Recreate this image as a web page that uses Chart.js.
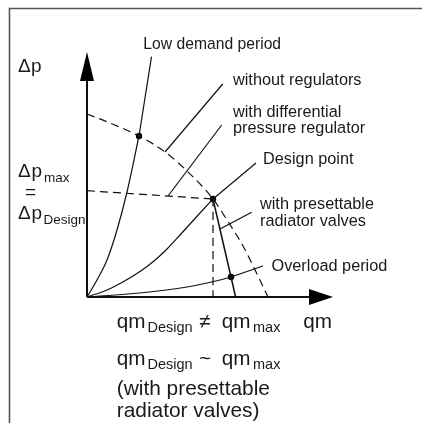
<!DOCTYPE html>
<html><head><meta charset="utf-8">
<script src="https://cdn.jsdelivr.net/npm/chart.js@4.4.0/dist/chart.umd.min.js"></script>
<style>html,body{margin:0;padding:0;background:#fff}#wrap{width:422px;height:423px}</style>
</head><body><div id="wrap"><canvas id="c"></canvas></div>
<script>
// Schematic units: qm (flow, x) and Δp (differential pressure, y)
const Q_MAX = 246, P_MAX = 245;
// pump curve "without regulators" (dashed)
const pumpQ = [0, 23, 52, 78, 100, 126, 140, 156, 171, 181];
const pumpP = [183, 174, 161, 145, 126, 98, 77, 51, 21, 0];
// system curve, low demand period
const lowQ = [0, 10, 20, 30, 40, 52];
const lowP = [0, 17, 37, 67, 105, 161];
// system curve, design
const designQ = [0, 20, 34, 53, 67, 80, 93, 113, 126];
const designP = [0, 7, 14, 25.5, 36, 48, 62, 84, 98];
// system curve, overload period
const overQ = [0, 53, 100, 133, 144];
const overP = [0, 4, 10, 17, 20];
// with presettable radiator valves
const valveQ = [126, 144, 148.6];
const valveP = [98, 20, 0];
// with differential pressure regulator (dashed)
const regQ = [0, 126];
const regP = [106.3, 98];
// design flow (dashed vertical)
const dflowQ = [126, 126];
const dflowP = [98, 0];
// marked operating points: low demand, design, overload
const ptQ = [52, 126, 144];
const ptP = [161, 98, 20];
// annotation leader lines [q1,p1,q2,p2]
const leaders = [
  [52, 161, 64.5, 240.3],
  [78, 145, 135.7, 213],
  [81, 101, 134.7, 172],
  [126, 98, 169, 134],
  [133, 68, 164.7, 84.7],
  [144, 20, 176, 31]
];
const xy = (qs, ps) => qs.map((q, i) => ({x: q, y: ps[i]}));
const ds = (data, o) => Object.assign({data, showLine: true, borderColor: '#111', borderWidth: 1.2,
  pointRadius: 0, fill: false, clip: false, cubicInterpolationMode: 'monotone'}, o || {});
const dash = [8, 5];
const datasets = [
  ds(xy(pumpQ, pumpP), {borderDash: dash}),
  ds(xy(regQ, regP), {borderDash: dash}),
  ds(xy(dflowQ, dflowP), {borderDash: dash}),
  ds(xy(lowQ, lowP)),
  ds(xy(designQ, designP)),
  ds(xy(overQ, overP)),
  ds(xy(valveQ, valveP), {cubicInterpolationMode: 'default', tension: 0, borderWidth: 1.5}),
  ...leaders.map(l => ds([{x: l[0], y: l[1]}, {x: l[2], y: l[3]}], {cubicInterpolationMode: 'default', tension: 0})),
  ds([{x: 0, y: 0}, {x: 0, y: 216}], {borderWidth: 2, cubicInterpolationMode: 'default'}),
  ds([{x: 0, y: 0}, {x: 223, y: 0}], {borderWidth: 2, cubicInterpolationMode: 'default'}),
  ds(xy(ptQ, ptP), {showLine: false, pointRadius: 3.2, pointBackgroundColor: '#000', pointBorderWidth: 0})
];
const FONT = '"Liberation Sans", Arial, Helvetica, sans-serif';
const labels = [
  {x: 143.3, y: 48.5, s: 15.7, t: 'Low demand period'},
  {x: 233, y: 85, s: 16.3, t: 'without regulators'},
  {x: 233, y: 116.5, s: 16.3, t: 'with differential'},
  {x: 233, y: 133, s: 16.3, t: 'pressure regulator'},
  {x: 263, y: 164, s: 16.3, t: 'Design point'},
  {x: 260, y: 209, s: 16.3, t: 'with presettable'},
  {x: 260, y: 226, s: 16.3, t: 'radiator valves'},
  {x: 271.5, y: 271, s: 16.3, t: 'Overload period'},
  {x: 18, y: 72, s: 19, t: 'Δ'},
  {x: 31, y: 72, s: 19, t: 'p'},
  {x: 18, y: 177, s: 19, t: 'Δ'},
  {x: 31.5, y: 177, s: 19, t: 'p'},
  {x: 44, y: 182, s: 13.5, t: 'max'},
  {x: 25, y: 198, s: 19, t: '='},
  {x: 18, y: 218.5, s: 19, t: 'Δ'},
  {x: 31.5, y: 218.5, s: 19, t: 'p'},
  {x: 43.5, y: 223.5, s: 13.5, t: 'Design'},
  {x: 116.7, y: 328.3, s: 20.7, t: 'qm'},
  {x: 147.5, y: 331.8, s: 14.5, t: 'Design'},
  {x: 199, y: 328.3, s: 20.7, t: '≠'},
  {x: 221.7, y: 328.3, s: 20.7, t: 'qm'},
  {x: 253, y: 331.8, s: 14.5, t: 'max'},
  {x: 303.3, y: 328.3, s: 20.7, t: 'qm'},
  {x: 116.7, y: 365, s: 20.7, t: 'qm'},
  {x: 147.5, y: 368.5, s: 14.5, t: 'Design'},
  {x: 199, y: 365, s: 20.7, t: '~'},
  {x: 221.7, y: 365, s: 20.7, t: 'qm'},
  {x: 253, y: 368.5, s: 14.5, t: 'max'},
  {x: 116.7, y: 395, s: 20.9, t: '(with presettable'},
  {x: 116.7, y: 416.7, s: 20.9, t: 'radiator valves)'}
];
const deco = {
  id: 'deco',
  beforeDraw(ch) {
    const c = ch.ctx; c.save();
    c.fillStyle = '#fff'; c.fillRect(0, 0, ch.width, ch.height);
    c.strokeStyle = '#555'; c.lineWidth = 1.6;
    c.beginPath(); c.moveTo(9.5, 423); c.lineTo(9.5, 8.5); c.lineTo(422, 8.5); c.stroke();
    c.restore();
  },
  afterDatasetsDraw(ch) {
    const c = ch.ctx, X = v => ch.scales.x.getPixelForValue(v), Y = v => ch.scales.y.getPixelForValue(v);
    c.save(); c.fillStyle = '#000';
    c.beginPath(); c.moveTo(X(0), Y(P_MAX)); c.lineTo(X(0) - 7, Y(216)); c.lineTo(X(0) + 7, Y(216)); c.closePath(); c.fill();
    c.beginPath(); c.moveTo(X(Q_MAX), Y(0)); c.lineTo(X(222), Y(0) - 8); c.lineTo(X(222), Y(0) + 8); c.closePath(); c.fill();
    c.fillStyle = '#1a1a1a'; c.textBaseline = 'alphabetic'; c.textAlign = 'left';
    labels.forEach(l => { c.font = l.s + 'px ' + FONT; c.fillText(l.t, l.x, l.y); });
    c.restore();
  }
};
new Chart(document.getElementById('c'), {
  type: 'scatter',
  data: {datasets},
  options: {
    responsive: true, maintainAspectRatio: false, animation: false, events: [],
    layout: {padding: {left: 87, right: 422 - 333, top: 52, bottom: 423 - 297}},
    plugins: {legend: {display: false}, tooltip: {enabled: false}},
    scales: {
      x: {type: 'linear', min: 0, max: Q_MAX, display: false},
      y: {type: 'linear', min: 0, max: P_MAX, display: false}
    }
  },
  plugins: [deco]
});
</script>
</body></html>
